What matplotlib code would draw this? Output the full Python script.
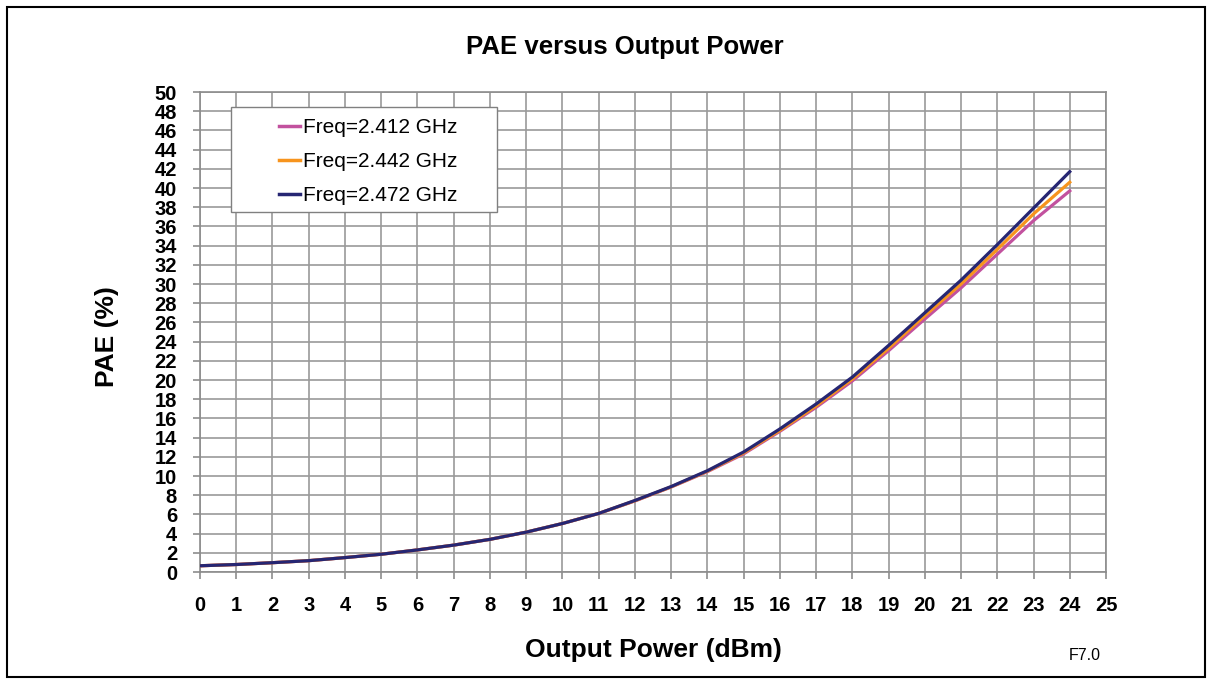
import matplotlib
matplotlib.use("Agg")
import matplotlib.pyplot as plt
from matplotlib.patches import Rectangle

plt.rcParams['font.family'] = ['Liberation Sans', 'DejaVu Sans']

# Data
output_power = [0, 1, 2, 3, 4, 5, 6, 7, 8, 9, 10, 11, 12, 13, 14, 15, 16, 17, 18, 19, 20, 21, 22, 23, 24]
pae_2412 = [0.65, 0.78, 0.97, 1.18, 1.5, 1.85, 2.3, 2.8, 3.4, 4.15, 5.05, 6.1, 7.4, 8.85, 10.45,
            12.3, 14.65, 17.15, 19.9, 23.05, 26.35, 29.6, 33.1, 36.6, 39.7]
pae_2442 = [0.65, 0.78, 0.97, 1.18, 1.5, 1.85, 2.3, 2.8, 3.4, 4.15, 5.05, 6.1, 7.42, 8.87, 10.5,
            12.4, 14.75, 17.3, 20.1, 23.3, 26.7, 30.0, 33.6, 37.3, 40.6]
pae_2472 = [0.65, 0.78, 0.97, 1.18, 1.5, 1.85, 2.3, 2.8, 3.4, 4.15, 5.05, 6.1, 7.45, 8.9, 10.55,
            12.5, 14.9, 17.5, 20.3, 23.6, 27.0, 30.4, 34.1, 37.9, 41.7]
series_labels = ['Freq=2.412 GHz', 'Freq=2.442 GHz', 'Freq=2.472 GHz']
series_colors = ['#C2519E', '#F7941D', '#262673']
x_ticks = list(range(0, 26))
y_ticks = list(range(0, 51, 2))

W, H = 1212, 684
fig = plt.figure(figsize=(W / 100, H / 100), dpi=100)
ax = fig.add_axes([200 / W, 1 - 572 / H, 906 / W, 480 / H])

for ys, lab, col in zip([pae_2412, pae_2442, pae_2472], series_labels, series_colors):
    ax.plot(output_power, ys, color=col, lw=2.3, label=lab, zorder=3,
            solid_joinstyle='round')

ax.set_xlim(0, 25)
ax.set_ylim(0, 50)
ax.set_xticks(x_ticks)
ax.set_yticks(y_ticks)
ax.grid(True, color='#9a9a9a', lw=1.2, zorder=1)
ax.set_axisbelow(True)
for s in ax.spines.values():
    s.set_color('#8c8c8c')
    s.set_linewidth(1.2)
ax.tick_params(axis='both', colors='#8c8c8c', length=5, width=1.2, direction='out')
ax.tick_params(axis='y', pad=11.5, labelcolor='black', labelsize=14.5)
ax.tick_params(axis='x', pad=12.5, labelcolor='black', labelsize=14.5)
for lbl in ax.get_xticklabels() + ax.get_yticklabels():
    lbl.set_fontweight('bold')

# Legend box
ax.add_patch(Rectangle(((231 - 200) / 906, (572 - 212) / 480), 266 / 906, 105 / 480,
                       transform=ax.transAxes, facecolor='white', edgecolor='#808080',
                       lw=1.0, zorder=4))
leg = ax.legend(loc='upper left', bbox_to_anchor=((279 - 200) / 906, (572 - 118) / 480),
                borderaxespad=0, borderpad=0, frameon=False, fontsize=15,
                handlelength=1.0, handletextpad=0.15, labelspacing=0.72)
leg.set_zorder(5)
for line in leg.get_lines():
    line.set_linewidth(2.5)

fig.text(625 / W, 1 - 47 / H, 'PAE versus Output Power', ha='center', va='center',
         fontsize=18.5, fontweight='bold')
fig.text(653 / W, 1 - 650 / H, 'Output Power (dBm)', ha='center', va='center',
         fontsize=19, fontweight='bold')
fig.text(107 / W, 1 - 337 / H, 'PAE (%)', ha='center', va='center', rotation=90,
         fontsize=19, fontweight='bold')
fig.text(1085 / W, 1 - 655 / H, 'F7.0', ha='center', va='center', fontsize=11.5)

# Outer border
fig.add_artist(Rectangle((7 / W, 1 - 677 / H), 1198 / W, 670 / H, transform=fig.transFigure,
                         facecolor='none', edgecolor='black', lw=1.5))

fig.savefig('out.png', dpi=100)
